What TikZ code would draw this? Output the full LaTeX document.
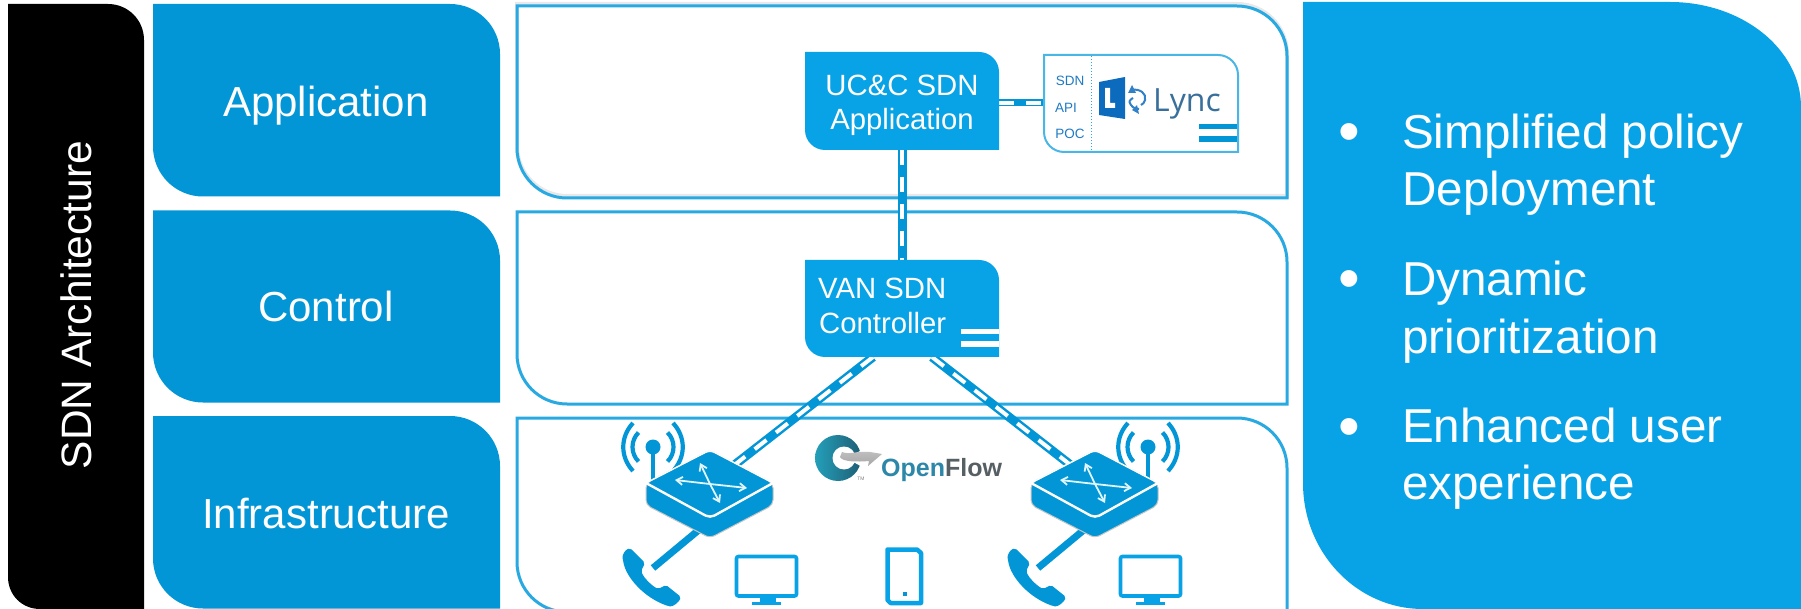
\documentclass[tikz,border=0pt]{standalone}
\usepackage{fontspec}
\setmainfont{Liberation Sans}
\newfontfamily\lyncfont{Open Sans}
\usetikzlibrary{arrows.meta}
\definecolor{labelblue}{HTML}{0296D6}
\definecolor{brightblue}{HTML}{08A3E6}
\definecolor{edgeblue}{HTML}{29A9E1}
\definecolor{lyncblue}{HTML}{1F7AC4}
\definecolor{lyncdark}{HTML}{0C6BBD}
\definecolor{ofteal}{HTML}{2C87A8}
\definecolor{ofgray}{HTML}{565F63}
\newcommand{\fsz}[2]{\fontsize{#1}{#2}\selectfont}
\newcommand{\leafshape}[6]{% x0 y0 x1 y1 r style
  \path[#6] (#1,#2) -- ({#3-#5},#2) .. controls ({#3-.4477*#5},#2) and (#3,{#2+.4477*#5}) .. (#3,{#2+#5})
    -- (#3,#4) -- ({#1+#5},#4) .. controls ({#1+.4477*#5},#4) and (#1,{#4-.4477*#5}) .. (#1,{#4-#5}) -- cycle;}
\newcommand{\anchorbox}[5]{% name x0 y0 x1 y1
  \pgfmathsetmacro{\bw}{#4-#2}\pgfmathsetmacro{\bh}{#5-#3}
  \node[anchorrect,minimum width=\bw pt,minimum height=\bh pt] (#1) at ({(#2+#4)/2},{(#3+#5)/2}) {};}
\newcommand{\router}[3]{% name, dx, antenna x (absolute)
  \draw[linkline,line width=4.5] (#3,447) -- (#3,482);
  \fill[labelblue] (#3,447) circle[radius=7.5];
  \draw[radiowave,line width=4.2] (#3,447) ++ (-14.5,-14.5) .. controls ++(-8,8) and ++(-8,-8+0) .. ++(0,29);
  \draw[radiowave,line width=4.2] (#3,447) ++ (14.5,-14.5) .. controls ++(8,8) and ++(8,-8+0) .. ++(0,29);
  \draw[radiowave,line width=4.2] (#3,447) ++ (-20,-24) .. controls ++(-13,14) and ++(-13,-14) .. ++(0,48);
  \draw[radiowave,line width=4.2] (#3,447) ++ (20,-24) .. controls ++(13,14) and ++(13,-14) .. ++(0,48);
  \begin{scope}[xshift=#2 pt]
    \fill[labelblue,draw=gray!45,line width=1,rounded corners=5] (646,483) -- (710,450) -- (773,483) -- (773,505) -- (710,538) -- (646,505) -- cycle;
    \draw[white,line width=1.4,rounded corners=5] (646,483) -- (710,450) -- (773,483);
    \draw[white,line width=2.4,rounded corners=5] (646,483) -- (710,518) -- (773,483);
    \draw[routerarrow] (710,484) -- (700,463);
    \draw[routerarrow] (710,484) -- (720,503);
    \draw[routerarrow] (710,484) -- (675,480);
    \draw[routerarrow] (710,484) -- (747,488);
  \end{scope}}
\newcommand{\phoneicon}[1]{%
  \begin{scope}[xshift=#1 pt]
    \fill[labelblue,rounded corners=2] (630,548) .. controls (625,550) and (622,555) .. (623,560)
      .. controls (626,578) and (645,598) .. (668,606) .. controls (673,607) and (679,602) .. (681,597)
      -- (666,585) -- (658,589) .. controls (651,585) and (644,578) .. (641,571) -- (645,563) -- cycle;
  \end{scope}}
\newcommand{\monitoricon}[1]{%
  \begin{scope}[xshift=#1 pt]
    \draw[brightblue,line width=3.6,rounded corners=2] (736.5,556.5) rectangle (796.5,596);
    \fill[brightblue] (760,597) rectangle (776,603);
    \fill[brightblue] (752,602) rectangle (781,605);
  \end{scope}}
\tikzset{
  anchorrect/.style={rectangle,inner sep=0,outer sep=0},
  layerlabel/.style={anchor=base,inner sep=0,text=white,font=\fsz{42}{42}},
  boxtext/.style={anchor=base,inner sep=0,text=white,font=\fsz{29.3}{35}},
  bullettext/.style={anchor=base west,inner sep=0,text=white,font=\fsz{47.6}{47.6}},
  bulletmark/.style={anchor=base,inner sep=0,text=white,font=\fsz{62}{62}},
  apitext/.style={anchor=base,inner sep=0,text=lyncblue,font=\fsz{13.5}{13.5}},
  frame/.style={draw=edgeblue,line width=3},
  framegray/.style={draw=gray!35,line width=4},
  connblue/.style={draw=labelblue,line width=9},
  connwhite/.style={draw=white,line width=4,dash pattern=on 15pt off 12pt},
  linkline/.style={draw=labelblue,line width=7},
  radiowave/.style={draw=labelblue},
  routerarrow/.style={draw=cyan!12,line width=1.8,-{Straight Barb[length=6pt,width=8pt]}},
  bars/.style={fill=labelblue}
}
\begin{document}
\begin{tikzpicture}[x=1pt,y=-1pt,line join=miter]
\useasboundingbox[fill=white] (0,0) rectangle (1801,609);
\begin{scope}
\clip (0,0) rectangle (1801,609);
% left black panel
\path[fill=black] (8,4) -- (108,4) .. controls (128,4) and (144,20) .. (144,40) -- (144,609) -- (40,609) .. controls (22,609) and (8,595) .. (8,577) -- cycle;
\anchorbox{arch}{8}{4}{144}{609}
% layer labels
\leafshape{153}{4}{500}{196.5}{50}{fill=labelblue}
\anchorbox{lapp}{153}{4}{500}{196.5}
\leafshape{153}{210.5}{500}{402.5}{50}{fill=labelblue}
\anchorbox{lctl}{153}{210.5}{500}{402.5}
\leafshape{153}{416}{500}{608.5}{50}{fill=labelblue}
\anchorbox{linf}{153}{416}{500}{608.5}
% outline panels
\leafshape{517}{5}{1287}{197}{50}{framegray,yshift=1pt,draw opacity=.5}
\leafshape{517}{6}{1287}{198}{50}{frame}
\anchorbox{papp}{517}{6}{1287}{198}
\leafshape{517}{212}{1287}{404}{50}{frame}
\anchorbox{pctl}{517}{212}{1287}{404}
\leafshape{517}{418}{1287}{612}{50}{frame}
\anchorbox{pinf}{517}{418}{1287}{612}
% right panel
\path[fill=brightblue] (1303,2) -- (1670,2) .. controls (1742,2) and (1801,49) .. (1801,107) -- (1801,609) -- (1423,609) .. controls (1357,609) and (1303,553) .. (1303,483) -- cycle;
\anchorbox{benefits}{1303}{2}{1801}{609}
% anchors for connector ends
\coordinate (vanL) at (873,357);
\coordinate (vanR) at (932,357);
\node[anchorrect] (rtrA) at (710,484) {};
\node[anchorrect] (rtrB) at (1095,484) {};
\coordinate (rtrAlow) at (712,519);
\coordinate (rtrBlow) at (1097,519);
\coordinate (phA) at (653,568);
\coordinate (phB) at (1038,568);
\anchorbox{ucc}{805}{52}{999}{150}
\anchorbox{van}{805}{260}{999}{357}
\anchorbox{lync}{1043}{54}{1238}{152}
% connectors
\draw[connblue,line width=7] (ucc.east |- lync.west) -- (lync.west);
\draw[connwhite,line width=3.5] (ucc.east |- lync.west) -- (lync.west);
\draw[connblue] (ucc.south) -- (van.north);
\draw[connwhite] (ucc.south) -- (van.north);
\draw[connblue] (vanL) -- (rtrA.center);
\draw[connwhite] (vanL) -- (rtrA.center);
\draw[connblue] (vanR) -- (rtrB.center);
\draw[connwhite] (vanR) -- (rtrB.center);
\draw[linkline] (rtrAlow) -- (phA);
\draw[linkline] (rtrBlow) -- (phB);
% boxes
\leafshape{805}{52}{999}{150}{20}{fill=brightblue}
\leafshape{805}{260}{999}{357}{20}{fill=brightblue}
\fill[white] (961,329) rectangle (999,334);
\fill[white] (961,341) rectangle (999,347);
\leafshape{1044}{55}{1238}{152}{20}{fill=white,draw=edgeblue!85,line width=2}
\draw[edgeblue,line width=1,dotted] (1091,56) -- (1091,150);
\fill[bars] (1199,124) rectangle (1237,129);
\fill[bars] (1199,136) rectangle (1237,142);
% Lync logo
\fill[lyncdark] (1099,82) -- (1125,77) -- (1125,119) -- (1099,115) -- cycle;
\fill[white] (1105,88) -- (1110,88) -- (1110,103) -- (1115,103) -- (1115,108) -- (1105,108) -- cycle;
\draw[lyncdark!85,line width=2] (1131,90) .. controls (1140,88) and (1147,94) .. (1145,100) .. controls (1144,103) and (1143,104) .. (1141,105);
\fill[lyncdark!85] (1132,85) -- (1136,93) -- (1128,93) -- cycle;
\draw[lyncdark!85,line width=2] (1133,98) .. controls (1130,100) and (1128,101) .. (1131,105) .. controls (1133,108) and (1136,109) .. (1139,109);
\fill[lyncdark!85] (1137,105) -- (1139,114) -- (1132,110) -- cycle;
\node[anchor=base west,inner sep=0,text=lyncblue!70!black!85,font=\lyncfont\fsz{32}{32}] (lynctext) at (1153,112) {Lync};
% OpenFlow logo
\shade[left color=ofteal!80!cyan,right color=ofteal!70!black] (838,458) circle[radius=23];
\fill[white] (844,458) circle[radius=11.5];
\fill[white] (846,458) -- (866,448) -- (866,469) -- cycle;
\shade[top color=gray!50,bottom color=gray!70] (842,452) .. controls (850,455) and (855,451) .. (870,452) -- (882,454) -- (868,466) -- (869,461) .. controls (858,462) and (842,462) .. (840,457) -- cycle;
\node[anchor=base west,inner sep=0,font=\bfseries\fsz{25}{25}] (oftext) at (881,476) {\textcolor{ofteal}{Open}\textcolor{ofgray}{Flow}};
\node[anchor=base,inner sep=0,text=gray,font=\fsz{5}{5}] (oftm) at (861,480) {TM};
% routers
\router{a}{0}{653}
\router{b}{385}{1148}
% end devices
\phoneicon{0}
\phoneicon{385}
\monitoricon{0}
\monitoricon{384}
\draw[brightblue,line width=4.5,line join=round] (887.5,549.5) -- (917,549.5) -- (921,553) -- (921,603) -- (890.5,603) -- (887.5,600) -- cycle;
\fill[labelblue] (903,592) rectangle (907,596);
\end{scope}
% text
\node[anchor=base,inner sep=0,text=white,rotate=90,font=\fsz{42.5}{42.5}] (archt) at (91,305) {SDN Architecture};
\node[layerlabel] (t1) at (326,117) {Application};
\node[layerlabel] (t2) at (326,322) {Control};
\node[layerlabel] (t3) at (326,528) {Infrastructure};
\node[boxtext] (t4) at (902,96) {UC\&C SDN};
\node[boxtext] (t5) at (902,130) {Application};
\node[boxtext,anchor=base west] (t6) at (818,299) {VAN SDN};
\node[boxtext,anchor=base west] (t7) at (819,334) {Controller};
\node[apitext] (t8) at (1070,86) {SDN};
\node[apitext] (t9) at (1066,113) {API};
\node[apitext] (t10) at (1070,139) {POC};
\node[bulletmark] (b1) at (1349,153) {•};
\node[bulletmark] (b2) at (1349,300) {•};
\node[bulletmark] (b3) at (1349,447) {•};
\node[bullettext] (s1) at (1402,149) {Simplified policy};
\node[bullettext] (s2) at (1402,206) {Deployment};
\node[bullettext] (s3) at (1402,296) {Dynamic};
\node[bullettext] (s4) at (1402,353) {prioritization};
\node[bullettext] (s5) at (1402,442) {Enhanced user};
\node[bullettext] (s6) at (1402,499) {experience};
\end{tikzpicture}
\end{document}
